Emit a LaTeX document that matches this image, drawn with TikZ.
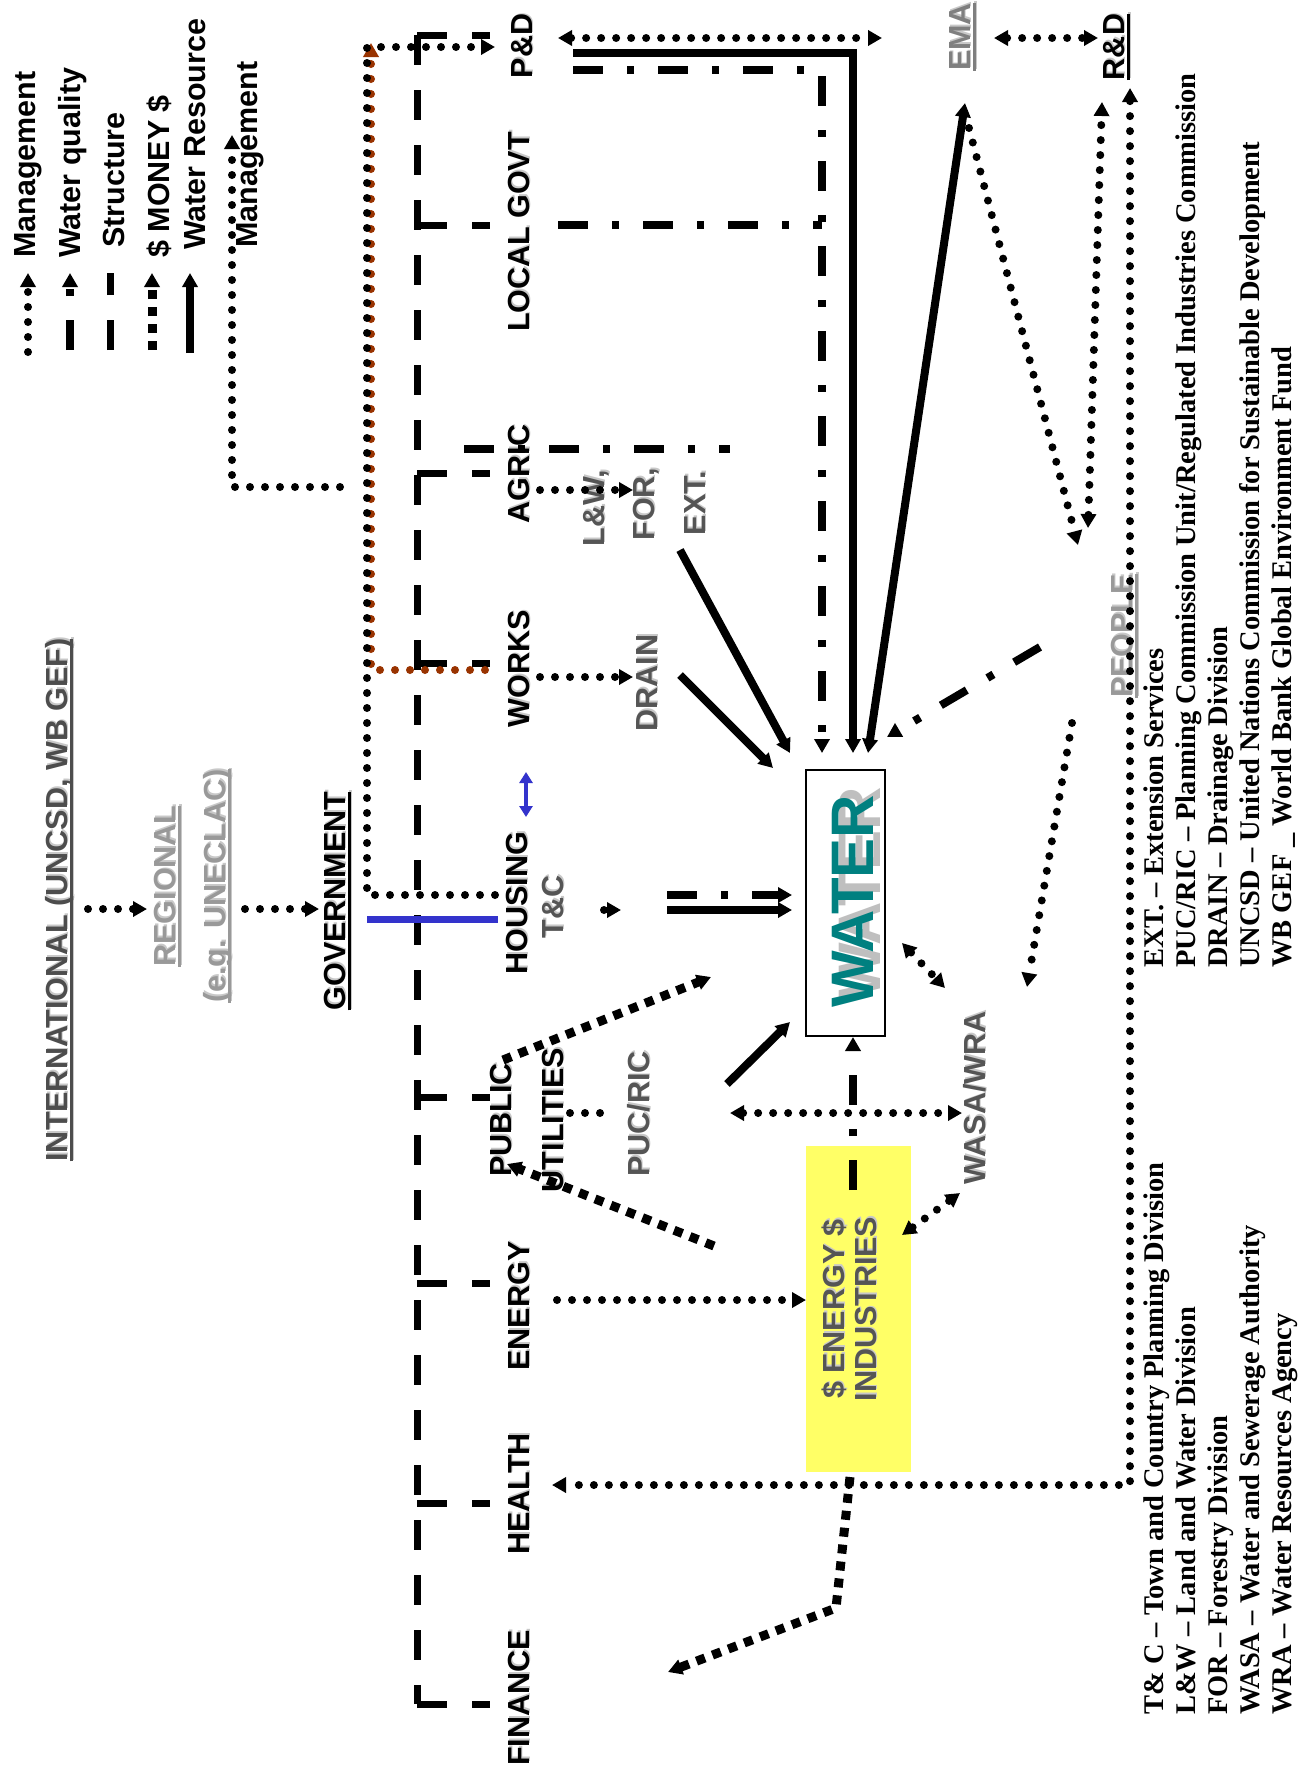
\documentclass[tikz,border=0pt]{standalone}
\usepackage{fontspec}
\usetikzlibrary{arrows.meta}
\newfontfamily\hv{Liberation Sans}
\newfontfamily\tnr{Liberation Serif}
\definecolor{dg}{HTML}{555555}
\definecolor{ig}{HTML}{4D4D4D}
\definecolor{lgr}{HTML}{999999}
\definecolor{eg}{HTML}{7F7F7F}
\definecolor{wteal}{HTML}{008080}
\definecolor{wshad}{HTML}{BFBFBF}
\definecolor{shc}{HTML}{C8C8C8}
\definecolor{yel}{HTML}{FFFF66}
\definecolor{brn}{HTML}{993300}
\definecolor{blu}{HTML}{3333CC}
\newcommand\ulx[1]{\setbox0=\hbox{#1}\rlap{\rule[-5.5pt]{\wd0}{3pt}}\box0}
\newcommand\shd[1]{\leavevmode\rlap{\kern1.8pt\raisebox{-1.8pt}{\color{shc}#1}}#1}
\tikzset{
  lab/.style={rotate=90, anchor=base, inner sep=0pt, font=\hv\bfseries\fontsize{30.5}{34}\selectfont},
  legl/.style={lab, anchor=base west},
  big/.style={rotate=90, anchor=base, inner sep=0pt, font=\hv\bfseries\fontsize{60}{70}\selectfont},
  note/.style={rotate=90, anchor=base west, inner sep=0pt, font=\tnr\bfseries\fontsize{28.5}{32}\selectfont},
  >={Triangle[length=14pt,width=15pt]},
  mgmt/.style={line width=8pt, line cap=round, dash pattern=on 0pt off 15pt},
  money/.style={line width=9pt, dash pattern=on 9pt off 8pt},
  wq/.style={line width=8pt, dash pattern=on 30pt off 24pt on 7pt off 24pt},
  struct/.style={line width=7pt, dash pattern=on 30pt off 25pt},
  wr/.style={line width=8pt},
}
\begin{document}
\begin{tikzpicture}[x=1pt,y=-1pt]
\fill[white] (0,0) rectangle (1303,1775);
\useasboundingbox (0,0) rectangle (1303,1775);

% ---------- legend (top left)
\node[legl] (lgA) at (35,258) {Management};
\node[legl] (lgB) at (80,258) {Water quality};
\node[legl] (lgC) at (124,248) {Structure};
\node[legl] (lgD) at (169,258) {\$ MONEY \$};
\node[legl] (lgE) at (205,250) {Water Resource};
\node[legl] (lgF) at (257,248) {Management};
\coordinate (lA1) at (28,352); \coordinate (lA2) at (28,273);
\coordinate (lB1) at (70,350); \coordinate (lB2) at (70,273);
\coordinate (lC1) at (110,350); \coordinate (lC2) at (110,273);
\coordinate (lD1) at (152,350); \coordinate (lD2) at (152,273);
\coordinate (lE1) at (190,353); \coordinate (lE2) at (190,273);
\draw[mgmt,->] (lA1) -- (lA2);
\draw[wq,->] (lB1) -- (lB2);
\draw[struct] (lC1) -- (lC2);
\draw[money,->] (lD1) -- (lD2);
\draw[wr,->] (lE1) -- (lE2);
\coordinate (lF0) at (340,487); \coordinate (lF1) at (232,487); \coordinate (lF2) at (232,135);
\draw[mgmt,->] (lF0) -- (lF1) -- (lF2);

% ---------- hierarchy on the left
\node[lab, text=ig] (intl) at (67,900) {\shd{\ulx{INTERNATIONAL (UNCSD, WB GEF)}}};
\node[lab, text=lgr] (reg) at (175,886) {\shd{\ulx{REGIONAL}}};
\node[lab, text=lgr] (eg) at (225,886) {\shd{\ulx{(e.g. UNECLAC)}}};
\node[lab] (gov) at (345,901) {\shd{\ulx{GOVERNMENT}}};
\coordinate (iA) at (88,909); \coordinate (iB) at (147,909);
\coordinate (rA) at (245,909); \coordinate (rB) at (319,909);
\draw[mgmt,->] (iA) -- (iB);
\draw[mgmt,->] (rA) -- (rB);

% ---------- departments
\node[lab] (pd) at (532,46) {\shd{P\&D}};
\node[lab] (lgov) at (529,232) {\shd{LOCAL GOVT}};
\node[lab] (agric) at (529,474) {\shd{AGRIC}};
\node[lab] (works) at (529,669) {\shd{WORKS}};
\node[lab] (hous) at (527,903) {\shd{HOUSING}};
\node[lab] (pub) at (511,1120) {\shd{PUBLIC}};
\node[lab] (util) at (563,1120) {\shd{UTILITIES}};
\node[lab] (energy) at (529,1306) {\shd{ENERGY}};
\node[lab] (health) at (529,1494) {\shd{HEALTH}};
\node[lab] (fin) at (529,1698) {\shd{FINANCE}};

\node[lab, text=dg] (lw) at (604,508) {\shd{L\&W,}};
\node[lab, text=dg] (fo) at (654,504) {\shd{FOR,}};
\node[lab, text=dg] (ext) at (705,503) {\shd{EXT.}};
\node[lab, text=dg] (drain) at (657,683) {\shd{DRAIN}};
\node[lab, text=dg] (tc) at (563,907) {\shd{T\&C}};
\node[lab, text=dg] (puc) at (649,1114) {\shd{PUC/RIC}};
\node[lab, text=dg] (wasa) at (985,1098) {\shd{WASA/WRA}};
\node[lab, text=eg] (ema) at (970,37) {\shd{\ulx{EMA}}};
\node[lab] (rd) at (1124,47) {\shd{\ulx{R\&D}}};

% ---------- structure (dashed)
\draw[struct] (417,35) -- (417,1704);
\foreach \yy in {35,225,473,663,1097,1283,1503,1704}
  \draw[struct] (417,\yy) -- (490,\yy);

% ---------- blue
\draw[blu, line width=7pt] (367,919) -- (498,919);
\draw[blu, line width=4pt, {Triangle[length=11pt,width=13pt]}-{Triangle[length=11pt,width=13pt]}] (526,772) -- (526,817);

% ---------- management lines from government
\draw[mgmt, brn, ->] (485,670) -- (371,670) -- (371,43);
\draw[mgmt, ->] (495,895) -- (367,895) -- (367,47) -- (495,47);
\draw[mgmt, ->] (540,490) -- (633,490);
\draw[mgmt, ->] (540,677) -- (633,677);
\draw[mgmt, <->] (558,38) -- (882,38);
\draw[mgmt, <->] (994,38) -- (1098,38);
\draw[mgmt, ->] (604,910) -- (621,910);

% ---------- water box
\node[draw, line width=2.5pt, minimum width=79pt, minimum height=266pt, inner sep=0pt] (water) at (845.5,903) {};
\node[big, text=wshad] (wsh) at (880,893) {WATER};
\node[big, text=wteal] (wt) at (873,901) {WATER};

% ---------- energy industries box
\node[fill=yel, minimum width=105pt, minimum height=326pt, inner sep=0pt] (ind) at (858.5,1309) {};
\node[lab, text=dg] (indA) at (844,1309) {\shd{\$ ENERGY \$}};
\node[lab, text=dg] (indB) at (876,1309) {\shd{INDUSTRIES}};

% ---------- water quality (dash dot)
\draw[wq, ->] (573,70) -- (822,70) -- (822,753);
\draw[wq] (558,225) -- (822,225);
\draw[wq] (464,449) -- (730,449);
\draw[wq, ->] (667,895) -- (792,895);
\draw[wq, ->] (1040,647) -- (887,737);
\draw[wq, ->] (853,1190) -- (853,1037);

% ---------- water resource (solid)
\draw[wr, ->] (573,53) -- (853,53) -- (853,753);
\draw[wr, <->] (868,753) -- (965,103);
\draw[wr, ->] (680,550) -- (790,753);
\draw[wr, ->] (680,675) -- (773,768);
\draw[wr, ->] (667,910) -- (792,910);
\draw[wr, ->] (727,1084) -- (790,1022);

% ---------- people and right side
\node[lab, text=lgr] (people) at (1132,636) {\shd{\ulx{PEOPLE}}};
\draw[mgmt, ->] (969,128) -- (1078,545);
\draw[mgmt, <->] (1088,528) -- (1102,102);
\draw[mgmt, <->] (1130,88) -- (1130,1485) -- (552,1485);
\draw[mgmt, <->] (902,943) -- (945,988);
\draw[mgmt, ->] (1072,723) -- (1027,987);
\draw[mgmt, <->] (730,1113) -- (962,1113);
\draw[mgmt] (570,1113) -- (606,1113);
\draw[mgmt, ->] (557,1300) -- (806,1300);
\draw[mgmt, <->] (902,1235) -- (960,1193);

% ---------- money
\draw[money, ->] (503,1060) -- (711,977);
\draw[money, ->] (714,1246) -- (507,1164);
\draw[money, ->] (850,1477) -- (836,1608) -- (668,1672);

% ---------- abbreviations
\node[note] (n1) at (1163,968) {EXT. – Extension Services};
\node[note] (n2) at (1195,968) {PUC/RIC – Planning Commission Unit/Regulated Industries Commission};
\node[note] (n3) at (1227,968) {DRAIN – Drainage Division};
\node[note] (n4) at (1259,968) {UNCSD – United Nations Commission for Sustainable Development};
\node[note] (n5) at (1291,968) {WB GEF \_ World Bank Global Environment Fund};
\node[note] (n6) at (1163,1715) {T\& C – Town and Country Planning Division};
\node[note] (n7) at (1195,1715) {L\&W – Land and Water Division};
\node[note] (n8) at (1227,1715) {FOR – Forestry Division};
\node[note] (n9) at (1259,1715) {WASA – Water and Sewerage Authority};
\node[note] (n10) at (1291,1715) {WRA – Water Resources Agency};
\end{tikzpicture}
\end{document}
